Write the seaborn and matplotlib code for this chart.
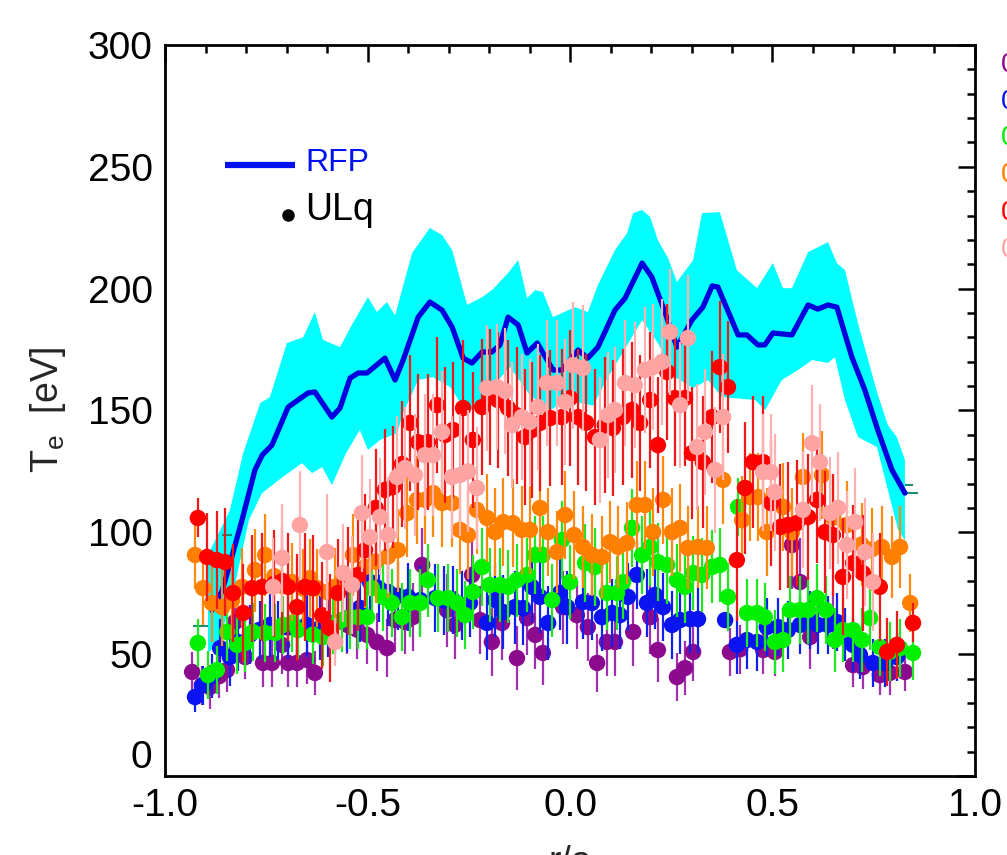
import numpy as np
import matplotlib
matplotlib.use("Agg")
import matplotlib.pyplot as plt
import seaborn as sns
from matplotlib.ticker import MultipleLocator, FormatStrFormatter

# ---------------- RFP profile (line + uncertainty band) ----------------
rfp_r = [-0.884, -0.859, -0.835, -0.810, -0.778, -0.760, -0.736, -0.696, -0.647, -0.630,
         -0.588, -0.568, -0.543, -0.523, -0.501, -0.457, -0.432, -0.412, -0.375, -0.346,
         -0.316, -0.291, -0.264, -0.242, -0.217, -0.193, -0.173, -0.153, -0.128, -0.106,
         -0.081, -0.042, -0.020, 0.020, 0.044, 0.069, 0.111, 0.136, 0.178, 0.202,
         0.235, 0.264, 0.301, 0.328, 0.351, 0.365, 0.415, 0.437, 0.464, 0.481,
         0.501, 0.548, 0.588, 0.612, 0.637, 0.659, 0.696, 0.728, 0.760, 0.795, 0.827]
rfp_te = [68, 76, 90, 105, 125.6, 131.7, 135.8, 151.4, 157.2, 157.6,
          147.3, 151, 163.3, 165.4, 165.4, 171.5, 162.5, 170.7, 188.3, 194.5,
          191.2, 184.2, 171.5, 169.5, 174, 174, 176.9, 188.3, 185.1, 173.6,
          177.7, 166.6, 166.6, 174.8, 171.5, 176, 191.2, 196.1, 210.5, 204.8,
          190, 176, 187.1, 192.4, 201.1, 200.7, 181, 181, 176.9, 176.9,
          181.8, 181, 193.3, 191.6, 193.3, 192.4, 171.9, 158.4, 142, 125.6, 116.1]

rfp_hi_r = [-0.894, -0.840, -0.807, -0.765, -0.741, -0.699, -0.659, -0.630, -0.610, -0.568,
            -0.536, -0.499, -0.477, -0.452, -0.432, -0.390, -0.346, -0.316, -0.291, -0.254,
            -0.217, -0.190, -0.153, -0.128, -0.106, -0.086, -0.067, -0.042, 0.012, 0.044,
            0.069, 0.111, 0.141, 0.156, 0.178, 0.198, 0.217, 0.242, 0.264, 0.304,
            0.326, 0.370, 0.412, 0.462, 0.501, 0.526, 0.548, 0.588, 0.637, 0.659,
            0.679, 0.711, 0.758, 0.785, 0.807, 0.827]
rfp_hi = [90.7, 109, 132.5, 153, 155.5, 177.7, 180, 190.4, 179, 176,
          185.9, 196.5, 190.4, 194.5, 189, 214.6, 224.9, 222, 215.8, 193.3,
          196.5, 199.8, 206.4, 211.7, 196.1, 199.4, 198.6, 188.3, 192.4, 190.4,
          201.5, 215.8, 222.8, 231, 232.3, 229.4, 219.9, 212.6, 202.7, 211.7,
          231, 231.4, 207.6, 200.2, 210.5, 200.2, 200.2, 215, 219.1, 210.5,
          207.6, 185.9, 157.6, 144, 139.1, 129.7]

rfp_lo_r = [-0.894, -0.864, -0.825, -0.793, -0.761, -0.719, -0.662, -0.637, -0.612, -0.588,
            -0.553, -0.519, -0.499, -0.469, -0.427, -0.412, -0.375, -0.338, -0.296, -0.254,
            -0.215, -0.148, -0.099, -0.049, -0.012, 0.057, 0.094, 0.178, 0.217, 0.259,
            0.304, 0.341, 0.375, 0.457, 0.482, 0.523, 0.563, 0.598, 0.637, 0.654,
            0.679, 0.711, 0.758, 0.810, 0.827]
rfp_lo = [50.5, 55.8, 80.4, 105, 116, 121.5, 128.4, 124.3, 126.8, 119.4,
          132.5, 142, 133.8, 137.9, 140.7, 149, 162.5, 163.7, 159.6, 149,
          155.5, 167.8, 156.3, 150, 154.3, 152, 163.7, 187.1, 177.7, 163.7,
          159.2, 162.5, 155.5, 154.3, 150.2, 162.5, 166.6, 170.7, 169.5, 171.9,
          154.3, 139.1, 135, 101, 96.8]

# small horizontal marks at the ends of the RFP band
cap_y = [61.5, 98.9, 116.1, 119.4]
cap_x0 = [-0.931, -0.859, 0.827, 0.827]
cap_x1 = [-0.894, -0.835, 0.859, 0.847]

# ---------------- ULq data series ----------------
purple_r = [-0.933, -0.909, -0.889, -0.866, -0.847, -0.827, -0.802, -0.758, -0.736, -0.711,
            -0.696, -0.674, -0.649, -0.630, -0.550, -0.525, -0.501, -0.477, -0.452, -0.432,
            -0.407, -0.388, -0.365, -0.304, -0.284, -0.242, -0.222, -0.193, -0.168, -0.131,
            -0.106, -0.086, -0.067, -0.017, 0.017, 0.044, 0.067, 0.091, 0.111, 0.156,
            0.198, 0.217, 0.264, 0.284, 0.304, 0.395, 0.420, 0.477, 0.506, 0.548,
            0.568, 0.593, 0.649, 0.699, 0.723, 0.765, 0.790, 0.827]
purple_te = [42.7, 37.3, 36.5, 41, 43.5, 63.2, 48.8, 46.4, 46.4, 53.8,
             46.4, 46.4, 47.6, 42.3, 62, 60, 57.9, 55, 52.5, 64,
             63.2, 65.2, 86.6, 68.1, 62, 82.5, 64, 55, 62.8, 48.4,
             64.8, 57.9, 50.5, 69.3, 66, 61.1, 46.4, 55, 55, 59.1,
             65.2, 51.7, 40.6, 44.3, 50.9, 50.9, 52, 51.7, 50.9, 94.8,
             79.6, 57, 64, 45.5, 44.7, 41.4, 42.3, 42.7]
purple_err = [8, 8, 9, 9, 9, 10, 9, 10, 10, 12,
              10, 10, 10, 9, 12, 12, 12, 12, 12, 13,
              13, 14, 15, 15, 14, 15, 14, 14, 15, 13,
              15, 14, 13, 15, 14, 14, 12, 14, 14, 14,
              15, 13, 10, 11, 12, 10, 10, 10, 10, 18,
              18, 13, 12, 9, 9, 8, 9, 8]

blue_r = [-0.926, -0.906, -0.884, -0.864, -0.840, -0.820, -0.790, -0.766, -0.741, -0.720,
          -0.696, -0.674, -0.650, -0.617, -0.597, -0.580, -0.550, -0.519, -0.494, -0.472,
          -0.449, -0.425, -0.400, -0.370, -0.333, -0.311, -0.289, -0.267, -0.247, -0.205,
          -0.185, -0.165, -0.136, -0.116, -0.094, -0.074, -0.054, -0.025, -0.007, 0.032,
          0.054, 0.079, 0.104, 0.123, 0.143, 0.165, 0.190, 0.210, 0.230, 0.252,
          0.272, 0.296, 0.316, 0.383, 0.412, 0.437, 0.462, 0.486, 0.514, 0.538,
          0.568, 0.593, 0.612, 0.637, 0.659, 0.679, 0.699, 0.716, 0.748, 0.778, 0.807]
blue_te = [32.4, 37.3, 41, 52.5, 48.8, 55, 58, 60, 62, 60,
           61, 60.7, 62, 60.7, 62, 63, 64.8, 69, 79.6, 77,
           75.5, 74, 73.5, 72.2, 73, 72, 72.2, 70, 71, 62.8,
           72.2, 67.3, 69.3, 68.9, 77.6, 73.5, 62.8, 75.1, 69.3, 71.4,
           71, 65.2, 66.9, 66, 73.5, 82.5, 71, 74.3, 69.3, 62,
           64, 64.4, 64.4, 64, 53.8, 55.8, 55, 61.1, 61.1, 59.9,
           62, 64, 62, 62, 63.2, 58, 53.8, 49.7, 46.4, 46.4, 48.8]
blue_err = [6, 8, 9, 12, 12, 12, 12, 12, 13, 12,
            13, 13, 13, 13, 13, 13, 14, 14, 14, 14,
            14, 14, 14, 14, 14, 14, 14, 14, 14, 15,
            15, 15, 15, 15, 15, 15, 15, 15, 15, 15,
            15, 14, 14, 14, 14, 14, 14, 14, 14, 14,
            14, 14, 14, 3, 12, 12, 12, 12, 12, 12,
            12, 12, 12, 12, 12, 11, 11, 10, 10, 10, 10]

green_r = [-0.919, -0.894, -0.872, -0.847, -0.822, -0.802, -0.783, -0.753, -0.728, -0.709,
           -0.686, -0.672, -0.635, -0.610, -0.585, -0.563, -0.543, -0.523, -0.501, -0.489,
           -0.462, -0.440, -0.415, -0.395, -0.370, -0.351, -0.326, -0.301, -0.279, -0.259,
           -0.240, -0.217, -0.198, -0.173, -0.153, -0.131, -0.106, -0.086, -0.067, -0.044,
           -0.020, 0.000, 0.037, 0.062, 0.091, 0.116, 0.131, 0.153, 0.178, 0.198,
           0.217, 0.240, 0.264, 0.284, 0.304, 0.326, 0.351, 0.370, 0.390, 0.415,
           0.437, 0.462, 0.481, 0.506, 0.526, 0.543, 0.568, 0.588, 0.610, 0.632,
           0.654, 0.674, 0.699, 0.721, 0.741, 0.765, 0.790, 0.815, 0.847]
green_te = [54.6, 41.4, 43.5, 59.1, 53.8, 54.6, 59.1, 58.7, 58.7, 62,
            62.8, 59.9, 58, 57, 62, 64, 65.2, 65.2, 65.2, 77.1,
            73.5, 71, 65.2, 71, 71, 80.4, 73, 73, 71, 66,
            75.5, 85.8, 78.4, 78.4, 77.6, 80.4, 82.5, 90.7, 90.7, 72.2,
            96.8, 79.6, 87.4, 85.8, 75.1, 75.1, 79.6, 101.8, 90.7, 94,
            87.8, 86.6, 80.4, 77.6, 83.3, 82.5, 85.8, 86.6, 73.5, 110.4,
            66.9, 66.9, 65.2, 55, 55.8, 68.1, 68.1, 68.1, 73, 68.1,
            55.8, 59.9, 59.9, 55.8, 64.8, 52.9, 51, 52.5, 50.5]
green_err = [10, 10, 10, 12, 12, 12, 12, 12, 12, 12,
             12, 12, 12, 12, 12, 13, 13, 13, 13, 14,
             14, 14, 14, 14, 14, 15, 14, 14, 14, 14,
             15, 16, 15, 15, 15, 15, 15, 16, 16, 15,
             16, 15, 16, 16, 15, 15, 15, 16, 16, 16,
             16, 16, 15, 15, 15, 15, 15, 15, 14, 12,
             14, 14, 14, 13, 13, 14, 14, 14, 14, 14,
             13, 13, 13, 13, 13, 12, 12, 12, 11]

orange_r = [-0.926, -0.906, -0.884, -0.859, -0.835, -0.810, -0.778, -0.753, -0.730, -0.710,
            -0.686, -0.660, -0.642, -0.625, -0.600, -0.580, -0.560, -0.536, -0.506, -0.480,
            -0.450, -0.425, -0.402, -0.378, -0.358, -0.338, -0.316, -0.291, -0.272, -0.252,
            -0.230, -0.205, -0.185, -0.165, -0.141, -0.119, -0.099, -0.074, -0.054, -0.032,
            -0.012, 0.010, 0.032, 0.054, 0.079, 0.099, 0.119, 0.141, 0.165, 0.185,
            0.205, 0.230, 0.252, 0.272, 0.291, 0.316, 0.338, 0.378, 0.425, 0.444,
            0.464, 0.486, 0.526, 0.548, 0.575, 0.622, 0.650, 0.684, 0.720, 0.745,
            0.770, 0.795, 0.815, 0.840]
orange_te = [90.7, 77.1, 71, 69.3, 72, 77.6, 84.5, 90.7, 82, 78,
             79.6, 77, 81.2, 77.1, 75.5, 77.6, 80, 90.7, 85.8, 88,
             90, 92.7, 107.9, 113.3, 113.3, 116.1, 112, 112, 101, 98.9,
             109.2, 105.9, 100.1, 104.2, 103.8, 101, 101, 110, 100.1, 91.9,
             107.1, 98.9, 94, 90.7, 89.9, 96, 94, 95.6, 111.2, 111.2,
             100.1, 113.3, 100.1, 101.8, 93.6, 94, 93.6, 121.5, 105, 114.5,
             114.5, 100.1, 110.4, 100, 122.7, 123.5, 106, 103, 95, 93,
             94, 89.9, 94, 71]
orange_err = [14, 15, 16, 16, 16, 16, 17, 17, 16, 16,
              16, 16, 16, 16, 16, 16, 16, 17, 17, 17,
              17, 17, 18, 18, 18, 18, 18, 18, 18, 18,
              18, 18, 18, 18, 18, 18, 18, 18, 18, 17,
              18, 18, 17, 17, 17, 17, 17, 17, 18, 18,
              18, 18, 18, 18, 17, 17, 17, 18, 18, 18,
              18, 18, 18, 18, 18, 18, 18, 18, 17, 17,
              17, 17, 17, 12]

red_r = [-0.919, -0.896, -0.872, -0.852, -0.832, -0.807, -0.785, -0.760, -0.730, -0.710,
         -0.696, -0.674, -0.654, -0.635, -0.612, -0.593, -0.573, -0.548, -0.523, -0.506,
         -0.480, -0.457, -0.437, -0.415, -0.395, -0.375, -0.351, -0.328, -0.308, -0.289,
         -0.264, -0.240, -0.217, -0.198, -0.178, -0.153, -0.131, -0.111, -0.094, -0.074,
         -0.049, -0.020, 0.000, 0.020, 0.040, 0.062, 0.086, 0.106, 0.131, 0.153,
         0.173, 0.198, 0.217, 0.240, 0.259, 0.284, 0.301, 0.328, 0.351, 0.370,
         0.390, 0.412, 0.432, 0.452, 0.477, 0.497, 0.519, 0.538, 0.560, 0.588,
         0.610, 0.630, 0.649, 0.674, 0.699, 0.723, 0.765, 0.783, 0.807, 0.847]
red_te = [105.9, 89.9, 88.6, 87.8, 75.1, 66.9, 77.1, 77.6, 79, 80,
          77.6, 69.3, 77.6, 77.1, 66, 60.7, 75.1, 80, 82.5, 92.7,
          110, 117.4, 118.6, 128, 144.9, 137, 137, 152.2, 140, 142,
          151, 137.9, 151.4, 155.5, 154.3, 151, 148, 139.1, 142, 144.9,
          146.9, 147.3, 155.1, 147.3, 145, 139.1, 144, 142.8, 147.3, 150.2,
          144.9, 154.3, 135.8, 165.8, 155.1, 155.1, 132.5, 128.8, 147.3, 167.8,
          159.6, 88.6, 118.2, 128.8, 128.8, 112, 102.2, 103, 103.8, 106.3,
          113.3, 100.1, 98.9, 81.7, 87.4, 83.3, 77.6, 50.9, 53.8, 62.8]
red_err = [8, 18, 20, 22, 20, 20, 22, 22, 22, 22,
           22, 22, 22, 22, 22, 22, 22, 22, 23, 23,
           24, 25, 25, 26, 28, 28, 28, 28, 28, 28,
           28, 28, 28, 28, 28, 28, 28, 28, 28, 28,
           28, 28, 28, 28, 28, 28, 28, 28, 28, 28,
           28, 28, 28, 28, 28, 28, 27, 27, 27, 27,
           27, 25, 27, 27, 27, 26, 26, 26, 26, 26,
           26, 25, 25, 24, 24, 24, 22, 14, 14, 8]

pink_r = [-0.733, -0.711, -0.667, -0.600, -0.580, -0.560, -0.538, -0.514, -0.494, -0.469,
          -0.449, -0.427, -0.407, -0.383, -0.358, -0.338, -0.316, -0.291, -0.272, -0.252,
          -0.230, -0.205, -0.180, -0.160, -0.143, -0.119, -0.099, -0.079, -0.057, -0.032,
          -0.012, 0.007, 0.032, 0.074, 0.094, 0.111, 0.136, 0.160, 0.185, 0.205,
          0.227, 0.247, 0.272, 0.291, 0.314, 0.333, 0.358, 0.378, 0.477, 0.496,
          0.506, 0.575, 0.598, 0.617, 0.642, 0.662, 0.684, 0.704, 0.728, 0.748]
pink_te = [77.6, 89.5, 103, 91.9, 55, 83.3, 78.4, 107.9, 98, 106.3,
           98.9, 122.7, 126.4, 123.5, 131.7, 131.7, 141.2, 122.7, 123.5, 125,
           118.2, 159.2, 159.6, 158, 144, 147.3, 145.3, 151.4, 161.3, 161.3,
           153.5, 168.6, 167.4, 137.9, 148.1, 150.2, 161.3, 160.4, 166.6, 167.8,
           169.9, 182.2, 152.2, 179.7, 135, 141.2, 125.6, 147.3, 124.7, 124.7,
           116.5, 109.2, 136.6, 128.8, 107.9, 110, 94.8, 104.2, 91.9, 79.6]
pink_err = [20, 22, 22, 24, 10, 20, 20, 24, 24, 24,
            24, 25, 25, 25, 25, 25, 25, 25, 25, 25,
            25, 26, 26, 26, 26, 26, 26, 26, 26, 26,
            26, 26, 26, 26, 26, 26, 26, 26, 26, 26,
            26, 26, 26, 26, 26, 26, 26, 26, 24, 24,
            24, 24, 24, 24, 23, 23, 22, 22, 22, 20]

# ---------------- styling ----------------
sns.set_theme(style="white")
plt.rcParams["font.family"] = ["Liberation Sans", "DejaVu Sans"]
plt.rcParams["axes.unicode_minus"] = False
plt.rcParams["mathtext.default"] = "regular"

fig = plt.figure(figsize=(10.07, 8.55), dpi=100)
ax = fig.add_axes([0.1639, 0.0924, 0.8043, 0.855])

# band
band_x = np.concatenate([rfp_hi_r, rfp_lo_r[::-1]])
band_y = np.concatenate([rfp_hi, rfp_lo[::-1]])
ax.fill(band_x, band_y, color="#00FFFF", lw=0, zorder=1)
ax.hlines(cap_y, cap_x0, cap_x1, color="#1E8C6E", lw=1.5, zorder=1.5)
sns.lineplot(x=rfp_r, y=rfp_te, sort=False, color="#0000DD", lw=3.8, ax=ax, zorder=2)

series = [
    (purple_r, purple_te, purple_err, "#8B0A8E", "#A030B0"),
    (blue_r, blue_te, blue_err, "#0A14F0", "#1020F0"),
    (green_r, green_te, green_err, "#00F000", "#20E820"),
    (orange_r, orange_te, orange_err, "#FF7F00", "#FF8A10"),
    (red_r, red_te, red_err, "#FF0000", "#F01818"),
    (pink_r, pink_te, pink_err, "#FFA3A3", "#FFB0B0"),
]
z = 3
for xr, yt, er, c, ec in series:
    ax.errorbar(xr, yt, yerr=er, fmt="none", ecolor=ec, elinewidth=1.6, capsize=0, zorder=z)
    sns.scatterplot(x=xr, y=yt, color=c, s=140, edgecolor="none", linewidth=0, ax=ax,
                    zorder=z + 0.5, legend=False)
    z += 1

ax.set_xlim(-1.0, 1.0)
ax.set_ylim(0, 300)
ax.xaxis.set_major_locator(MultipleLocator(0.5))
ax.xaxis.set_minor_locator(MultipleLocator(0.1))
ax.yaxis.set_major_locator(MultipleLocator(50))
ax.yaxis.set_minor_locator(MultipleLocator(10))
ax.xaxis.set_major_formatter(FormatStrFormatter("%.1f"))
ax.yaxis.set_major_formatter(FormatStrFormatter("%d"))

ax.tick_params(which="both", direction="in", top=True, right=True, colors="black",
               labelsize=28, width=1.8)
ax.tick_params(which="major", length=12, pad=9)
ax.tick_params(which="minor", length=6)
for sp in ax.spines.values():
    sp.set_linewidth(2.0)
    sp.set_color("black")

ax.set_ylabel("T$_e$  [eV]", fontsize=27, labelpad=14)
ax.set_xlabel("r/a", fontsize=27, labelpad=15)

# legend (drawn manually in axes coordinates)
ax.plot([0.074, 0.160], [0.836, 0.836], transform=ax.transAxes, color="#0010F0", lw=4.5,
        solid_capstyle="butt", zorder=10)
ax.text(0.173, 0.838, "RFP", transform=ax.transAxes, color="#0010F0", fontsize=23,
        va="center", ha="left", zorder=10)
ax.plot([0.152], [0.767], transform=ax.transAxes, marker="o", color="black", ms=8,
        zorder=10)
ax.text(0.173, 0.774, "ULq", transform=ax.transAxes, color="black", fontsize=27,
        va="center", ha="left", zorder=10)

# right-hand labels (cut by the figure edge in the original)
side_labels = ["0", "0", "0", "0", "0", "0"]
side_colors = ["#8B0A8E", "#0A14F0", "#00F000", "#FF7F00", "#FF0000", "#FFA3A3"]
side_y = [65, 102, 138, 175, 213, 250]
for lab, c, yy in zip(side_labels, side_colors, side_y):
    fig.text(1001 / 1007, 1 - yy / 855, lab, color=c, fontsize=20, va="center", ha="left")

# lift the "0" y tick label a little, as in the original
fig.canvas.draw()
for t in ax.yaxis.get_major_ticks():
    if abs(t.get_loc()) < 1e-9:
        t.label1.set_verticalalignment("bottom")

fig.savefig("out.png", dpi=100)
